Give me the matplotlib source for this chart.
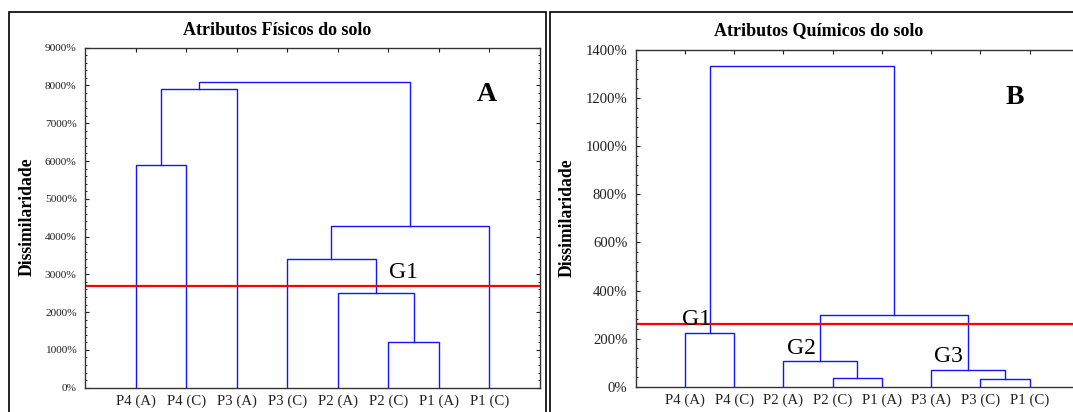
import matplotlib
matplotlib.use("Agg")
import matplotlib.pyplot as plt
from matplotlib.patches import Rectangle
from matplotlib.ticker import FuncFormatter, AutoMinorLocator

plt.rcParams['font.family'] = ['Liberation Serif', 'DejaVu Serif']

# Atributos fisicos (panel A)
labels_fis = ["P4 (A)", "P4 (C)", "P3 (A)", "P3 (C)", "P2 (A)", "P2 (C)", "P1 (A)", "P1 (C)"]
# merges: (left child, right child, height %) ; leaves 0..7, new clusters 8, 9, ...
merges_fis = [(5, 6, 1220), (4, 8, 2500), (3, 9, 3420), (10, 7, 4280),
              (0, 1, 5890), (12, 2, 7900), (13, 11, 8100)]
cut_fis = 2700

# Atributos quimicos (panel B)
labels_qui = ["P4 (A)", "P4 (C)", "P2 (A)", "P2 (C)", "P1 (A)", "P3 (A)", "P3 (C)", "P1 (C)"]
merges_qui = [(3, 4, 35), (2, 8, 108), (6, 7, 33), (5, 10, 70),
              (9, 11, 300), (0, 1, 225), (13, 12, 1335)]
cut_qui = 260

W, H = 1073, 412
BLUE = '#1414ff'


def draw_dendro(ax, labels, merges):
    n = len(labels)
    xs = {i: i + 1 for i in range(n)}
    hs = {i: 0 for i in range(n)}
    for k, (a, b, h) in enumerate(merges):
        ax.plot([xs[a], xs[a], xs[b], xs[b]], [hs[a], h, h, hs[b]],
                color=BLUE, lw=1.0, solid_joinstyle='miter')
        xs[n + k] = (xs[a] + xs[b]) / 2
        hs[n + k] = h
    ax.set_xticks(range(1, n + 1))
    ax.set_xticklabels(labels, fontsize=10.7)
    ax.set_xlim(0, n + 1)


def style_axes(ax, ylab_size):
    for s in ax.spines.values():
        s.set_color('#333333')
        s.set_linewidth(1.0)
    ax.yaxis.set_major_formatter(FuncFormatter(lambda v, p: f"{v:.0f}%"))
    ax.yaxis.set_minor_locator(AutoMinorLocator(5))
    ax.tick_params(axis='y', which='major', direction='in', length=3,
                   right=True, labelsize=ylab_size, pad=6, colors='#222222')
    ax.tick_params(axis='y', which='minor', direction='in', length=1.5, right=True)
    ax.tick_params(axis='x', direction='in', length=3, top=True, bottom=False,
                   pad=5, colors='#222222')


fig = plt.figure(figsize=(W / 100, H / 100), dpi=100)

# panel frames
fig.patches.append(Rectangle((9 / W, -0.05), (546 - 9) / W, (H - 11.7) / H + 0.05,
                             transform=fig.transFigure, fill=False, lw=1.2,
                             edgecolor='black'))
fig.patches.append(Rectangle((550 / W, -0.05), 0.6, (H - 11.7) / H + 0.05,
                             transform=fig.transFigure, fill=False, lw=1.2,
                             edgecolor='black'))

# Panel A
ax1 = fig.add_axes([85 / W, (H - 387.7) / H, 455 / W, 340 / H])
draw_dendro(ax1, labels_fis, merges_fis)
ax1.set_ylim(0, 9000)
ax1.set_yticks(range(0, 9001, 1000))
ax1.axhline(cut_fis, color='#ff0000', lw=1.6)
style_axes(ax1, 8.2)
ax1.text(6.02, 2900, "G1", fontsize=17, ha='left', va='baseline')
ax1.text(7.95, 7600, "A", fontsize=20, fontweight='bold', ha='center', va='baseline')
fig.text(277.5 / W, 1 - 30.7 / H, "Atributos Físicos do solo", fontsize=13,
         fontweight='bold', ha='center', va='center')
fig.text(27.5 / W, 1 - 217 / H, "Dissimilaridade", fontsize=12.7, fontweight='bold',
         rotation=90, ha='center', va='center')

# Panel B
ax2 = fig.add_axes([635.7 / W, (H - 386.7) / H, 443.1 / W, 336.7 / H])
draw_dendro(ax2, labels_qui, merges_qui)
ax2.set_ylim(0, 1400)
ax2.set_yticks(range(0, 1401, 200))
ax2.axhline(cut_qui, color='#ff0000', lw=1.6)
style_axes(ax2, 10.6)
ax2.text(0.95, 256, "G1", fontsize=17, ha='left', va='baseline')
ax2.text(3.08, 136, "G2", fontsize=17, ha='left', va='baseline')
ax2.text(6.06, 102, "G3", fontsize=17, ha='left', va='baseline')
ax2.text(7.71, 1175, "B", fontsize=20, fontweight='bold', ha='center', va='baseline')
fig.text(819 / W, 1 - 30.7 / H, "Atributos Químicos do solo", fontsize=13,
         fontweight='bold', ha='center', va='center')
fig.text(567.4 / W, 1 - 218 / H, "Dissimilaridade", fontsize=12.7, fontweight='bold',
         rotation=90, ha='center', va='center')

fig.savefig("out.png", dpi=100)
